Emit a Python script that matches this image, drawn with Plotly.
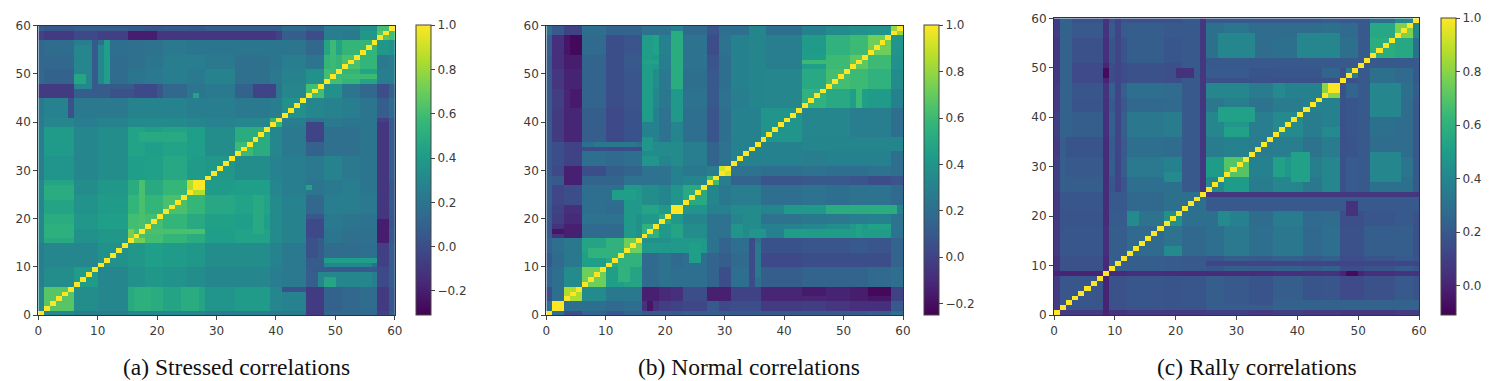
import plotly.graph_objects as go

W, H = 1503, 381
TICKS = [0, 10, 20, 30, 40, 50, 60]

# ---- (a) Stressed: lower triangle of group-level correlations
stressed_edges = [0, 1, 6, 10, 15, 18, 21, 25, 28, 33, 39, 41, 45, 48, 51, 54, 57, 59, 60]
stressed_values = [
    [1.0],
    [.30, .65],
    [.25, .33, .40],
    [.25, .30, .30, .35],
    [.30, .48, .35, .38, .72],
    [.30, .50, .38, .42, .60, .60],
    [.30, .45, .36, .40, .55, .55, .62],
    [.30, .45, .33, .38, .50, .48, .56, .85],
    [.25, .37, .30, .33, .42, .43, .47, .40, .38],
    [.25, .40, .30, .33, .44, .42, .44, .42, .33, .50],
    [.22, .30, .25, .28, .32, .32, .32, .30, .27, .30, .55],
    [.22, .27, .22, .22, .28, .28, .27, .25, .25, .22, .25, .35],
    [.10, .03, .08, .07, .07, .05, .12, .20, .22, .10, .20, .30, .60],
    [.12, .10, .20, .15, .20, .22, .25, .22, .28, .17, .22, .28, .35, .60],
    [.12, .12, .22, .15, .17, .20, .25, .25, .22, .17, .20, .25, .20, .55, .62],
    [.12, .15, .25, .16, .17, .18, .22, .20, .20, .20, .20, .20, .12, .45, .55, .55],
    [-.05, -.08, -.02, -.06, -.12, -.12, -.12, -.12, -.03, -.06, -.05, .08, .00, .25, .22, .38, .65],
    [.08, .05, .08, .08, .06, .04, .06, .05, .08, .08, .08, .15, .10, .25, .25, .35, .60, 1.0],
]
# local features: x from, x to, y from, y to, value
stressed_patches = [
    (26, 28, 26, 28, 1.0), (25, 26, 32, 39, .52), (47, 56, 6, 9, .30), (48, 56, 10, 12, .30),
    (6, 8, 48, 50, .46), (11, 12, 48, 57, .42), (17, 18, 1, 6, .56), (17, 18, 16, 28, .62),
    (49, 50, 50, 57, .58), (46, 57, 9, 10, .06), (41, 48, 5, 6, .02), (0, 6, 45, 47, -.02),
    (12, 20, 45, 47, .02), (45, 48, 0, 6, -.08), (45, 48, 36, 40, -.04), (45, 48, 16, 20, -.02),
    (57, 59, 15, 20, -.2), (57, 59, 20, 40, -.1), (45, 46, 26, 27, .45), (32, 39, 25, 26, .42),
    (36, 38, 17, 25, .48), (33, 36, 33, 36, .58), (1, 6, 16, 19, .52), (1, 6, 24, 27, .50),
]

# ---- (b) Normal
normal_edges = [0, 1, 3, 6, 10, 13, 16, 19, 21, 23, 27, 29, 31, 36, 43, 47, 51, 54, 58, 60]
normal_values = [
    [1.0],
    [.20, .90],
    [.05, .20, .85],
    [.15, .20, .35, .72],
    [.10, .18, .25, .45, .50],
    [.15, .20, .25, .48, .55, .72],
    [.10, -.06, -.14, .18, .18, .38, .55],
    [.10, -.02, -.10, .22, .22, .38, .42, .50],
    [.10, .00, -.08, .20, .18, .42, .48, .42, .95],
    [.12, .02, -.05, .20, .20, .42, .36, .32, .40, .50],
    [.12, .10, .05, .15, .15, .22, .22, .22, .30, .32, .60],
    [.10, .03, -.08, .05, .12, .15, .22, .22, .30, .25, .28, .85],
    [.10, .05, .00, .20, .18, .20, .40, .32, .35, .28, .15, .22, .30],
    [.10, -.03, -.12, .12, .03, .07, .30, .22, .32, .20, .08, .20, .30, .40],
    [.10, -.02, -.12, .15, .05, .08, .33, .25, .42, .22, .10, .22, .28, .33, .55],
    [.10, -.05, -.13, .15, .05, .08, .36, .26, .45, .20, .10, .20, .30, .33, .50, .62],
    [.10, -.08, -.15, .15, .05, .10, .42, .28, .50, .22, .08, .20, .30, .28, .45, .60, .68],
    [.12, -.08, -.17, .18, .05, .08, .46, .30, .52, .22, .05, .22, .30, .28, .43, .55, .60, .72],
    [.20, .10, .00, .20, .15, .15, .22, .22, .30, .18, .08, .20, .20, .20, .30, .35, .38, .40, .80],
]
normal_patches = [
    (21, 23, 21, 23, 1.0), (4, 6, 4, 6, .85), (1, 3, 1, 3, 1.0), (29, 31, 29, 31, .92),
    (13, 15, 16, 27, .42), (12, 14, 7, 13, .55), (24, 26, 11, 15, .45), (21, 23, 50, 57, .55),
    (16, 18, 40, 58, .44), (52, 53, 16, 19, .46), (47, 59, 21, 23, .52), (40, 47, 21, 23, .42),
    (33, 36, 16, 23, .35), (43, 60, 34, 37, .32), (16, 18, 34, 37, .4), (35, 36, 8, 15, .25),
    (34, 35, 6, 16, .04), (17, 18, 1, 3, -.18), (43, 47, 4, 6, -.16), (54, 58, 4, 6, -.22),
    (27, 31, 3, 6, -.14), (23, 27, 3, 6, .05), (52, 53, 43, 50, .6),
]

# ---- (c) Rally
rally_edges = [0, 1, 8, 9, 12, 18, 21, 25, 28, 32, 36, 41, 44, 47, 51, 56, 59, 60]
rally_values = [
    [1.0],
    [.08, .19],
    [.00, .00, 1.0],
    [.06, .17, .02, .22],
    [.08, .19, .04, .22, .27],
    [.08, .18, .03, .21, .31, .45],
    [.08, .19, .03, .20, .26, .30, .30],
    [.10, .22, .03, .19, .29, .30, .15, .40],
    [.10, .20, .03, .22, .34, .38, .17, .50, .70],
    [.08, .18, .03, .21, .29, .28, .15, .35, .38, .35],
    [.10, .22, .04, .23, .33, .35, .17, .40, .47, .36, .42],
    [.08, .18, .05, .20, .26, .27, .15, .33, .37, .31, .35, .38],
    [.08, .19, .06, .23, .29, .28, .16, .40, .40, .35, .38, .38, .80],
    [.07, .14, .00, .15, .17, .16, .10, .21, .21, .18, .19, .19, .25, .35],
    [.07, .17, .04, .18, .22, .19, .10, .30, .38, .28, .30, .30, .37, .30, .58],
    [.09, .20, .06, .21, .22, .20, .10, .30, .32, .28, .28, .28, .30, .27, .55, .78],
    [.09, .18, .06, .18, .17, .17, .10, .20, .20, .20, .20, .20, .22, .20, .30, .40, 1.0],
]
rally_patches = [
    (45, 47, 45, 47, 1.0), (24, 25, 25, 60, .04), (25, 60, 24, 25, .07), (25, 60, 21, 24, .2),
    (36, 60, 1, 3, .24), (25, 36, 1, 2, .22), (28, 32, 36, 38, .48), (28, 33, 39, 42, .5),
    (36, 38, 28, 32, .52), (39, 42, 27, 33, .52), (27, 29, 18, 21, .5), (18, 21, 12, 14, .42),
    (18, 21, 27, 29, .42), (44, 47, 52, 55, .43), (44, 47, 36, 38, .42), (25, 60, 50, 52, .2),
    (52, 57, 27, 33, .4), (52, 57, 40, 47, .4), (25, 60, 10, 11, .12), (47, 48, 25, 50, .17),
    (28, 31, 25, 27, .5), (48, 50, 8, 9, -.08), (48, 50, 20, 23, .05),
]

titles = ["(a) Stressed correlations", "(b) Normal correlations", "(c) Rally correlations"]
zmins = [-.31, -.25, -.11]
cbar_ticks = [
    [-.2, 0, .2, .4, .6, .8, 1],
    [-.2, 0, .2, .4, .6, .8, 1],
    [0, .2, .4, .6, .8, 1],
]


def expand(edges, values, patches):
    lookup = []
    for g in range(len(edges) - 1):
        lookup += [g] * (edges[g + 1] - edges[g])
    z = []
    for i in range(60):
        row = []
        for j in range(60):
            a, b = max(lookup[i], lookup[j]), min(lookup[i], lookup[j])
            row.append(values[a][b])
        z.append(row)
    for x0, x1, y0, y1, v in patches:
        for i in range(y0, y1):
            for j in range(x0, x1):
                z[i][j] = v
                z[j][i] = v
    for i in range(60):
        z[i][i] = 1.0
    return z


sets = [(stressed_edges, stressed_values, stressed_patches),
        (normal_edges, normal_values, normal_patches),
        (rally_edges, rally_values, rally_patches)]
# pixel boxes: plot x0, x1, y0 (top), y1 (bottom), colourbar x0
boxes = [(38.3, 394.8, 25.7, 315.2, 416),
         (546.3, 903, 25.7, 315.2, 924.3),
         (1054, 1419, 18.3, 315.2, 1440.7)]
caption_x = [236.5, 749, 1257]

cells = [i + .5 for i in range(60)]
fig = go.Figure()
layout = dict(width=W, height=H, margin=dict(l=0, r=0, t=0, b=0, autoexpand=False),
              paper_bgcolor="white", plot_bgcolor="white", showlegend=False,
              font=dict(family="DejaVu Sans", size=12, color="#3a3a3a"))
annotations = []
for k, ((e, v, p), (x0, x1, y0, y1, cx)) in enumerate(zip(sets, boxes)):
    suffix = "" if k == 0 else str(k + 1)
    fig.add_trace(go.Heatmap(
        x=cells, y=cells, z=expand(e, v, p), zmin=zmins[k], zmax=1,
        colorscale="Viridis", xaxis="x" + suffix, yaxis="y" + suffix, hoverinfo="skip",
        colorbar=dict(x=cx / W, xanchor="left", xpad=0, ypad=0,
                      y=1 - y1 / H, yanchor="bottom", len=(y1 - y0) / H, lenmode="fraction",
                      thickness=15, thicknessmode="pixels", outlinecolor="#444", outlinewidth=1,
                      tickvals=cbar_ticks[k], tickformat=".1f", ticks="outside", ticklen=4,
                      tickcolor="#444", tickfont=dict(family="DejaVu Sans", size=12, color="#3a3a3a")),
    ))
    axis = dict(range=[0, 60], tickvals=TICKS, ticks="outside", ticklen=4, tickcolor="#444",
                showgrid=False, zeroline=False, showline=True, linecolor="#333", linewidth=1,
                mirror=True, tickfont=dict(family="DejaVu Sans", size=12, color="#3a3a3a"))
    layout["xaxis" + suffix] = dict(axis, domain=[x0 / W, x1 / W], anchor="y" + suffix)
    layout["yaxis" + suffix] = dict(axis, domain=[1 - y1 / H, 1 - y0 / H], anchor="x" + suffix)
    annotations.append(dict(text=titles[k], x=caption_x[k] / W, y=0, xref="paper", yref="paper",
                            xanchor="center", yanchor="bottom", showarrow=False, borderpad=0,
                            font=dict(family="Liberation Serif", size=23.5, color="#111")))
fig.update_layout(**layout, annotations=annotations)
fig.write_html("out.html", config=dict(displayModeBar=False),
               post_script="document.body.style.margin='0';document.documentElement.style.overflow='hidden';")
